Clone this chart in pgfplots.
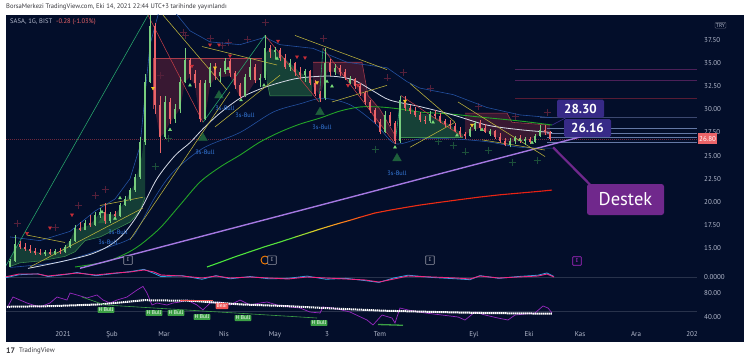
\documentclass[border=0pt]{standalone}
\usepackage{pgfplots}
\pgfplotsset{compat=1.18}
\usepackage{pgfplotstable}
\usepackage{fontspec}
\setmainfont{PT Sans}

\definecolor{navy}{RGB}{3,14,42}
\definecolor{candGc}{RGB}{120,205,125}
\definecolor{candRc}{RGB}{235,100,105}
\definecolor{maWhite}{RGB}{215,220,232}
\definecolor{maGreen}{RGB}{35,165,40}
\definecolor{bandBlue}{RGB}{35,80,160}
\definecolor{zzGreen}{RGB}{40,170,110}
\definecolor{zzRed}{RGB}{190,60,70}
\definecolor{trendY}{RGB}{190,180,60}
\definecolor{supPurple}{RGB}{165,120,225}
\definecolor{fillG}{RGB}{35,100,65}
\definecolor{fillR}{RGB}{110,35,58}
\definecolor{gBorder}{RGB}{60,140,80}
\definecolor{rBorder}{RGB}{170,60,75}
\definecolor{crossR}{RGB}{85,32,58}
\definecolor{crossG}{RGB}{28,80,58}
\definecolor{bigTri}{RGB}{30,95,60}
\definecolor{triG}{RGB}{120,220,120}
\definecolor{triR}{RGB}{200,45,55}
\definecolor{triY}{RGB}{240,200,40}
\definecolor{bullBlue}{RGB}{55,125,225}
\definecolor{lblIndigo}{RGB}{55,42,135}
\definecolor{destek}{RGB}{112,40,140}
\definecolor{priceRed}{RGB}{235,100,105}
\definecolor{priceLine}{RGB}{110,40,60}
\definecolor{scaleTxt}{RGB}{180,186,205}
\definecolor{macdPink}{RGB}{240,40,130}
\definecolor{macdCyan}{RGB}{40,170,230}
\definecolor{rsiPurple}{RGB}{150,40,190}
\definecolor{hbull}{RGB}{60,160,70}
\definecolor{bear}{RGB}{240,85,85}
\definecolor{lvPurple}{RGB}{75,32,88}
\definecolor{lvMaroon}{RGB}{88,28,52}
\definecolor{lvBlue}{RGB}{60,72,112}
\definecolor{lvSteel}{RGB}{100,120,165}
\definecolor{zeroLine}{RGB}{40,50,75}
\definecolor{eGray}{RGB}{150,152,165}
\definecolor{ePurple}{RGB}{170,40,200}
\definecolor{hdr}{RGB}{55,55,60}

\pgfplotstableread{
x o h l c
10 13.0 13.8 12.9 13.6
15 13.6 16.4 13.5 15.4
45 14.4 14.8 14.1 14.6
55 14.4 14.9 14.2 14.7
65 14.6 15.3 14.5 15.1
70 15.1 16.0 15.0 15.8
75 15.8 17.5 15.7 17.2
85 17.0 18.0 16.9 17.7
95 17.5 18.9 17.4 18.6
100 18.6 19.3 18.3 18.9
110 17.9 18.9 17.7 18.7
120 18.5 19.9 18.4 19.7
125 19.7 20.6 19.5 20.3
130 20.3 21.5 20.1 21.3
135 21.3 23.0 21.1 22.7
140 22.7 27.0 22.5 26.5
145 26.5 33.8 26.2 33.0
150 33.0 40.2 32.8 39.0
165 27.0 31.5 26.8 30.8
175 29.0 30.6 28.5 30.0
180 30.0 33.5 29.6 33.0
185 33.0 36.6 32.8 35.3
205 29.0 33.2 28.8 32.8
210 32.8 35.0 32.4 34.6
220 33.6 34.5 33.0 34.0
225 34.0 35.6 33.8 35.2
245 31.5 33.8 31.3 33.5
250 33.5 35.6 33.2 34.6
260 33.2 33.8 32.4 33.4
265 33.4 38.0 33.2 36.6
275 36.2 36.8 35.5 36.4
290 34.6 35.5 34.2 35.0
305 33.7 34.4 33.0 34.1
325 31.2 36.6 31.0 35.0
335 34.0 34.9 33.7 34.5
350 32.9 33.6 32.7 33.3
385 27.6 29.8 27.4 29.4
400 26.6 31.5 26.4 31.0
430 28.7 29.8 28.5 29.5
470 27.1 28.1 27.0 27.9
475 27.9 28.7 27.7 28.5
490 27.3 27.9 27.1 27.7
510 26.2 26.9 25.9 26.6
515 26.6 27.1 26.3 26.9
525 26.6 27.0 26.2 26.8
535 26.5 27.3 26.4 27.1
540 27.1 28.3 27.0 27.8
}\candG

\pgfplotstableread{
x o h l c
20 15.4 15.8 14.9 15.1
25 15.1 15.5 14.7 14.9
30 14.9 15.3 14.5 14.7
35 14.7 15.0 14.3 14.5
40 14.5 14.9 14.2 14.4
50 14.6 14.9 14.3 14.4
60 14.7 15.0 14.4 14.6
80 17.2 17.8 16.8 17.0
90 17.7 18.6 17.3 17.5
105 18.9 19.9 17.6 17.9
115 18.7 19.0 18.3 18.5
155 39.0 39.3 29.5 30.5
160 30.5 31.5 25.3 27.0
170 30.8 31.2 28.4 29.0
190 35.3 35.6 33.2 33.8
195 33.8 34.3 32.3 32.8
200 32.8 33.2 28.6 29.0
215 34.6 35.0 33.2 33.6
230 35.2 35.5 33.5 33.9
235 33.9 34.2 32.2 32.6
240 32.6 32.9 31.1 31.5
255 34.6 34.9 32.8 33.2
270 36.6 37.0 35.6 36.2
280 36.4 36.6 35.2 35.6
285 35.6 36.0 34.4 34.6
295 35.0 35.1 33.6 34.0
300 34.0 34.6 33.3 33.7
310 34.1 34.3 32.6 32.9
315 32.9 33.2 31.4 31.7
320 31.7 32.0 30.8 31.2
330 35.0 35.4 33.6 34.0
340 34.5 34.8 33.6 34.0
345 34.0 34.4 33.2 33.5
355 33.3 33.4 32.2 32.5
360 32.5 32.8 31.5 31.8
365 31.8 32.0 30.5 30.8
370 30.8 31.0 29.6 29.9
375 29.9 30.2 28.4 28.6
380 28.6 29.0 27.3 27.6
390 29.4 29.7 28.2 28.5
395 28.5 28.7 26.3 26.6
405 31.0 31.4 29.8 30.2
410 30.2 30.5 29.5 29.8
415 29.8 30.3 29.2 29.4
420 29.4 29.7 28.6 28.9
425 28.9 29.3 28.4 28.7
435 29.5 29.9 29.0 29.3
440 29.3 29.6 28.5 28.7
445 28.7 29.0 28.1 28.4
450 28.4 28.9 27.9 28.2
455 28.2 28.5 27.5 27.7
460 27.7 28.1 27.0 27.3
465 27.3 27.6 26.8 27.1
480 28.5 28.8 27.8 28.0
485 28.0 28.4 27.4 27.6
495 27.7 27.8 26.8 27.0
500 27.0 27.4 26.4 26.6
505 26.6 26.9 26.0 26.2
520 26.9 27.2 26.4 26.6
530 26.8 27.0 26.3 26.5
545 27.8 28.3 27.2 27.5
550 27.5 27.7 26.6 26.8
}\candR

\pgfplotsset{
  panel/.style={scale only axis, width=691pt, xmin=6, xmax=697,
    axis line style={draw=none}, major tick length=0pt, xtick=\empty,
    yticklabel pos=right,
    yticklabel style={anchor=west, inner sep=0pt, xshift=7pt, text=scaleTxt, font=\fontsize{7}{8}\selectfont},
    clip mode=individual},
  thin line/.style={line width=0.55pt},
  candle/.style={draw=none, no markers, forget plot, error bars/.cd, y dir=plus, y explicit, error mark=none},
}

\begin{document}
\begin{tikzpicture}[x=1pt,y=1pt]
\fill[white] (0,0) rectangle (750,362);
\fill[navy] (6,20) rectangle (744,347);
\node[anchor=west, inner sep=0pt, text=hdr, font=\fontsize{6.6}{8}\selectfont] at (6,355) {BorsaMerkezi TradingView.com, Eki 14, 2021 22:44 UTC+3 tarihinde yayınlandı};
\node[anchor=west, inner sep=0pt, text=hdr, font=\bfseries\fontsize{8}{9}\selectfont] at (6,11) {17};
\node[anchor=west, inner sep=0pt, text=hdr, font=\fontsize{6.8}{8}\selectfont] at (19,11) {TradingView};

% ================= MAIN PRICE PANEL =================
\begin{axis}[panel, name=main, at={(6pt,94pt)}, anchor=south west, height=253pt, ymin=12.84, ymax=40.21,
  ytick={15,17.5,20,22.5,25,27.5,30,32.5,35,37.5},
  yticklabels={15.00,17.50,20.00,22.50,25.00,27.50,30.00,32.50,35.00,37.50}]

% shaded zones
\addplot[fill=fillG, draw=none, fill opacity=0.55] coordinates {(10,13.6)(15,15.3)(25,14.9)(40,14.5)(60,14.6)(70,15.8)(75,17.0)(90,17.5)(100,18.8)(115,18.6)(125,20.0)(135,22.0)(142,25.0)(145,28.0)(145,20.5)(140,19.0)(130,17.8)(115,17.0)(100,16.2)(85,15.8)(75,14.6)(65,14.1)(40,13.6)(20,13.4)(10,13.0)} -- cycle;
\addplot[gBorder, thin line] coordinates {(10,13.0)(20,13.4)(40,13.6)(65,14.1)(75,14.6)(85,15.8)(100,16.2)(115,17.0)(130,17.8)(140,19.0)(145,20.5)};
\addplot[fill=fillR, draw=none, fill opacity=0.5] coordinates {(153,35.5)(262,35.5)(262,33.4)(255,33.0)(245,31.3)(240,31.3)(235,32.4)(230,33.6)(215,33.4)(210,32.6)(205,29.0)(200,28.8)(195,32.5)(190,33.5)(185,33.0)(180,30.0)(170,28.6)(165,27.5)(160,27.0)(155,30.0)} -- cycle;
\addplot[rBorder, thin line] coordinates {(153,30.0)(153,35.5)(262,35.5)};
\addplot[fill=fillG, draw=none, fill opacity=0.6] coordinates {(265,36.0)(270,36.6)(280,36.0)(290,35.0)(300,34.0)(312,33.2)(312,31.45)(270,31.45)(267,33.0)} -- cycle;
\addplot[gBorder, thin line] coordinates {(267,33.0)(270,31.45)(312,31.45)};
\addplot[fill=fillR, draw=none, fill opacity=0.5] coordinates {(313,35.1)(362,35.1)(368,31.5)(380,30.0)(395,27.2)(395,26.6)(385,27.8)(375,28.8)(365,31.0)(355,32.5)(345,33.4)(335,34.0)(328,34.2)(320,31.5)(313,32.5)} -- cycle;
\addplot[rBorder, thin line] coordinates {(313,35.1)(362,35.1)(368,31.5)(380,30.0)(395,27.2)};
\addplot[fill=fillG, draw=none, fill opacity=0.6] coordinates {(400,30.5)(405,30.9)(415,29.7)(430,29.4)(440,28.9)(450,28.3)(463,27.3)(463,27.0)(400,27.0)} -- cycle;
\addplot[gBorder, thin line] coordinates {(400,27.0)(463,27.0)};
\addplot[fill=fillR, draw=none, fill opacity=0.5] coordinates {(465,29.6)(507,29.6)(512,28.6)(550,28.3)(550,27.2)(540,27.3)(530,26.7)(510,26.4)(500,26.8)(490,27.4)(480,28.0)(470,27.6)(465,27.2)} -- cycle;
\addplot[rBorder, thin line] coordinates {(465,29.6)(507,29.6)(512,28.6)(550,28.3)};

% horizontal level lines
\addplot[lvPurple, line width=0.6pt] coordinates {(515,34.35)(697,34.35)};
\addplot[lvPurple, line width=0.6pt] coordinates {(515,33.17)(697,33.17)};
\addplot[lvMaroon, line width=0.6pt] coordinates {(515,31.23)(697,31.23)};
\addplot[lvBlue, line width=0.5pt] coordinates {(540,29.16)(697,29.16)};
\addplot[lvSteel, line width=0.35pt] coordinates {(547,28.0)(697,28.0)};
\addplot[lvSteel, line width=0.35pt] coordinates {(547,27.45)(697,27.45)};
\addplot[lvSteel, line width=0.35pt] coordinates {(547,27.0)(697,27.0)};
\addplot[lvSteel, line width=0.35pt] coordinates {(547,26.4)(697,26.4)};
\addplot[priceLine, line width=0.45pt, dash pattern=on 1pt off 1pt] coordinates {(6,26.8)(697,26.8)};

% big dark triangles and crosses
\addplot[only marks, mark=triangle*, mark size=5pt, color=bigTri] coordinates {(203,26.9)(219,31.5)(320,29.7)(397,24.7)(103,18.0)};
\addplot[only marks, mark=+, mark size=3.5pt, color=crossR, line width=0.7pt] coordinates {(17,17.7)(55,17.2)(78,19.6)(95,20.7)(105,21.3)(185,38.0)(210,37.7)(228,37.2)(265,39.4)(160,33.7)(183,38.3)(222,36.9)(247,37.6)(323,37.7)(387,33.4)(403,34.0)(430,32.3)(478,30.3)(547,29.7)(515,29.2)};
\addplot[only marks, mark=+, mark size=3.5pt, color=crossG, line width=0.7pt] coordinates {(155,23.8)(168,26.9)(375,25.7)(438,26.5)(453,26.1)(465,25.4)(488,25.6)(512,24.3)(537,24.5)};

% moving averages / bands
\addplot[bandBlue, line width=0.6pt] coordinates {(10,16.2)(40,15.8)(70,16.8)(95,19.0)(115,20.3)(130,22.5)(140,26)(150,37)(160,41)(175,40.5)(190,38.5)(210,37.3)(240,37.0)(265,37.8)(280,37.0)(313,36.6)(347,35.1)(387,34.5)(407,33.0)(420,32.3)(453,31.6)(487,30.2)(520,29.4)(552,29.1)};
\addplot[bandBlue, line width=0.6pt, smooth] coordinates {(10,12.9)(60,13.5)(100,14.8)(130,16.0)(140,17.5)(155,20.5)(173,23.2)(203,25.8)(240,27.5)(273,29.7)(300,30.6)(323,31.2)(350,30.5)(375,28.5)(395,26.3)(420,26.8)(453,26.8)(487,26.5)(520,25.9)(552,25.8)};
\addplot[maGreen, line width=0.9pt, smooth] coordinates {(75,12.95)(105,13.49)(125,14.35)(140,15.32)(160,17.16)(180,19.65)(200,22.14)(220,23.76)(240,25.06)(260,26.47)(280,27.55)(300,28.41)(320,29.06)(340,29.82)(360,30.26)(380,30.26)(400,30.04)(420,29.71)(450,29.50)(480,29.17)(520,28.74)(552,28.31)};
\addplot[maWhite, line width=0.8pt, smooth] coordinates {(28,12.8)(60,13.5)(90,14.3)(110,15.3)(125,16.7)(140,19.0)(157,22.5)(175,25.0)(190,26.4)(203,27.9)(220,29.6)(240,31.2)(260,32.2)(280,32.9)(300,33.4)(330,33.6)(353,33.2)(373,32.0)(390,31.0)(420,30.3)(453,29.4)(487,28.3)(520,27.8)(552,27.5)};
\addplot[mesh, point meta=x, point meta min=207, point meta max=552, line width=1.1pt,
  colormap={ma200}{rgb255(0pt)=(70,230,60); rgb255(83pt)=(90,225,60); rgb255(108pt)=(220,210,40); rgb255(133pt)=(255,140,30); rgb255(163pt)=(240,50,20); rgb255(345pt)=(230,30,20)}]
  coordinates {(207,12.95)(220,13.45)(235,14.05)(250,14.6)(265,15.15)(280,15.65)(295,16.18)(310,16.7)(320,17.05)(330,17.38)(340,17.7)(350,18.0)(360,18.33)(375,18.79)(390,19.1)(405,19.38)(420,19.65)(440,19.95)(460,20.24)(480,20.52)(500,20.76)(520,20.95)(540,21.14)(552,21.27)};
\addplot[supPurple, line width=1.4pt] coordinates {(80,12.81)(600,27.58)};

% zigzag
\addplot[zzGreen, thin line] coordinates {(6,13.1)(148,40.2)};
\addplot[zzRed, thin line] coordinates {(148,40.2)(203,28.6)};
\addplot[zzGreen, thin line] coordinates {(203,28.6)(265,38.0)};
\addplot[zzRed, thin line] coordinates {(265,38.0)(319,30.8)};
\addplot[zzGreen, thin line] coordinates {(319,30.8)(323,36.6)};
\addplot[zzRed, thin line] coordinates {(323,36.6)(395,26.3)};
\addplot[zzGreen, thin line] coordinates {(395,26.3)(401,31.5)};
\addplot[zzRed, thin line] coordinates {(401,31.5)(463,27.0)};

% yellow trend lines
\addplot[trendY, thin line] coordinates {(27,16.4)(65,15.6)};
\addplot[trendY, thin line] coordinates {(30,12.95)(143,19.33)};
\addplot[trendY, thin line] coordinates {(100,19.6)(143,20.5)};
\addplot[trendY, thin line] coordinates {(130,15.9)(230,31.9)};
\addplot[trendY, thin line] coordinates {(163,40.2)(227,32.1)};
\addplot[trendY, thin line] coordinates {(202,36.8)(277,34.8)};
\addplot[trendY, thin line] coordinates {(215,28.1)(280,33.7)};
\addplot[trendY, thin line] coordinates {(295,38.0)(387,34.3)};
\addplot[trendY, thin line] coordinates {(332,30.8)(387,32.6)};
\addplot[trendY, thin line] coordinates {(410,32.8)(455,28.6)};
\addplot[trendY, thin line] coordinates {(410,25.9)(455,28.6)};
\addplot[trendY, thin line] coordinates {(458,30.8)(545,24.9)};
\addplot[trendY, thin line] coordinates {(482,26.7)(545,25.6)};

% candles: wicks
\addplot[candle, error bar style={draw=candGc, line width=0.6pt}]
  table[x=x, y=l, y error plus expr=\thisrow{h}-\thisrow{l}] {\candG};
\addplot[candle, error bar style={draw=candRc, line width=0.6pt}]
  table[x=x, y=l, y error plus expr=\thisrow{h}-\thisrow{l}] {\candR};
% candles: bodies
\addplot[candle, error bar style={draw=candGc, line width=2.4pt}]
  table[x=x, y=o, y error plus expr=\thisrow{c}-\thisrow{o}] {\candG};
\addplot[candle, error bar style={draw=candRc, line width=2.4pt}]
  table[x=x, y=c, y error plus expr=\thisrow{o}-\thisrow{c}] {\candR};

% small signal triangles
\addplot[only marks, mark=triangle*, mark size=1.7pt, color=triG] coordinates {(170,27.8)(190,32.6)(228,34.4)(241,31.0)(264,32.6)(277,35.5)(102,18.9)(115,18.2)(120,20.4)(327,33.0)(332,32.5)(395,25.9)(433,28.6)(457,27.2)(482,27.8)(520,26.7)(532,26.4)};
\addplot[only marks, mark=triangle*, mark size=1.8pt, color=triR, mark options={rotate=180}] coordinates {(27,16.6)(50,17.2)(72,18.6)(210,37.0)(192,34.7)(230,35.8)(219,37.0)(278,37.4)(297,35.7)(305,35.6)(348,32.6)(358,32.6)};
\addplot[only marks, mark=triangle*, mark size=1.8pt, color=triY, mark options={rotate=180}] coordinates {(153,32.3)(215,34.5)(317,32.9)(405,30.9)(472,28.3)};

% 3s-Bull labels
\foreach \px/\py in {225/30.13, 245/29.39, 205/25.38, 322/28.09, 397/23.11, 118/16.73, 108/15.65}{
  \edef\tmp{\noexpand\node[text=bullBlue, inner sep=0pt, font=\noexpand\fontsize{6.3}{7}\noexpand\selectfont] at (axis cs:\px,\py) {3s-Bull};}\tmp
}

% E markers
\draw[orange, line width=0.9pt] (axis cs:265,13.7) circle[radius=4pt];
\foreach \px in {128,272,430}{
  \edef\tmp{\noexpand\node[draw=eGray, fill=navy, text=eGray, line width=0.6pt, rounded corners=0.6pt, minimum size=8.5pt, inner sep=0pt, font=\noexpand\fontsize{5.5}{6}\noexpand\selectfont] at (axis cs:\px,13.7) {E};}\tmp
}
\node[draw=ePurple, fill=navy, text=ePurple, line width=0.6pt, rounded corners=0.6pt, minimum size=8.5pt, inner sep=0pt, font=\fontsize{5.5}{6}\selectfont] at (axis cs:577,13.6) {E};

% legend text
\node[anchor=west, inner sep=0pt, font=\fontsize{6.6}{8}\selectfont] at (axis cs:10,39.45) {\textcolor{scaleTxt}{SASA, 1G, BIST}\hspace{4pt}\textcolor{priceRed}{-0.28 (-1.03\%)}};

% annotations
\draw[lblIndigo, line width=0.7pt] (axis cs:566,29.1) -- (axis cs:552,28.3);
\draw[destek, line width=2.2pt] (axis cs:553,25.9) -- (axis cs:597,21.1);
\node[fill=lblIndigo, text=white, rounded corners=1.5pt, minimum width=47pt, minimum height=18pt, inner sep=0pt, font=\bfseries\fontsize{13}{14}\selectfont] at (axis cs:580.5,30.09) {28.30};
\node[fill=lblIndigo, text=white, rounded corners=1.5pt, minimum width=47pt, minimum height=18pt, inner sep=0pt, font=\bfseries\fontsize{13}{14}\selectfont] at (axis cs:587.5,27.98) {26.16};
\node[fill=destek, text=white, rounded corners=2.5pt, minimum width=77pt, minimum height=31pt, inner sep=0pt, font=\fontsize{18.5}{20}\selectfont] at (axis cs:625.5,20.25) {Destek};

% price scale extras
\node[fill=priceRed, text=white, anchor=west, minimum height=11pt, inner sep=1.5pt, font=\fontsize{7}{8}\selectfont] at (axis cs:697.5,26.80) {26.80};
\node[draw=eGray!60!navy, text=scaleTxt, rounded corners=1pt, inner sep=1pt, line width=0.4pt, font=\fontsize{5.5}{6}\selectfont] at (axis cs:720.5,39.1) {TRY};
\end{axis}

% ================= MACD PANEL =================
\begin{axis}[panel, name=macd, at={(main.south west)}, anchor=north west, height=18pt, ymin=-1, ymax=1, ytick={0}, yticklabels={0.0000}]
\addplot[zeroLine, line width=0.6pt] coordinates {(6,0)(697,0)};
\addplot[macdCyan, line width=0.8pt] coordinates {(5,-0.1)(19,0.25)(38,0.35)(48,0.05)(67,0.3)(77,0.5)(96,0.15)(115,0.4)(130,0.6)(144,0.85)(154,0.4)(161,0.05)(182,0.15)(202,-0.25)(216,0.15)(230,-0.2)(250,0.05)(269,-0.2)(288,-0.15)(307,0.1)(326,-0.25)(346,-0.15)(365,-0.4)(379,-0.6)(394,-0.1)(408,0.2)(432,-0.05)(456,-0.2)(470,-0.3)(480,0.15)(499,-0.15)(518,0.05)(538,0.2)(547,0.45)(554,0.05)};
\addplot[macdPink, line width=0.9pt] coordinates {(5,0)(19,0.33)(38,0.33)(48,0.11)(67,0.33)(77,0.44)(96,0.22)(115,0.44)(130,0.56)(144,0.78)(154,0.56)(161,0.22)(182,0.11)(202,-0.11)(216,0.11)(230,-0.11)(250,0)(269,-0.11)(288,-0.22)(307,0)(326,-0.11)(346,-0.22)(365,-0.33)(379,-0.56)(394,-0.22)(408,0.11)(432,0)(456,-0.11)(470,-0.22)(480,0.11)(499,-0.11)(518,0)(538,0.11)(547,0.33)(554,0)};
\end{axis}

% ================= RSI PANEL =================
\begin{axis}[panel, name=rsi, at={(macd.south west)}, anchor=north west, height=40pt, ymin=25, ymax=91.67, ytick={40,80}, yticklabels={40.00,80.00},
  xtick={63,112,164,224,275,327,380,474,529,580,636,692},
  xticklabels={2021,Şub,Mar,Nis,May,3,Tem,Eyl,Eki,Kas,Ara,202},
  xticklabel style={anchor=base, yshift=-10.5pt, inner sep=0pt, text=scaleTxt, font=\fontsize{7}{8}\selectfont}]
\addplot[zeroLine, line width=0.7pt] coordinates {(6,50)(697,50)};
\addplot[rsiPurple, line width=0.7pt] coordinates {(7,55.0)(13,73.3)(20,68.3)(27,63.3)(33,60.0)(40,56.7)(50,63.3)(57,73.3)(67,68.3)(70,80.0)(77,76.7)(87,71.7)(97,76.7)(103,68.3)(110,63.3)(117,68.3)(127,73.3)(137,85.0)(143,91.0)(147,80.0)(152,60.0)(157,63.3)(167,60.0)(173,63.3)(180,65.0)(187,68.3)(197,60.0)(203,51.7)(210,63.3)(220,65.0)(230,60.0)(240,68.3)(250,60.0)(260,63.3)(267,65.0)(277,60.0)(290,56.7)(300,55.0)(310,48.3)(320,46.7)(323,56.7)(333,55.0)(350,48.3)(367,35.0)(373,26.7)(382,43.3)(392,38.3)(395,30.0)(400,55.0)(408,51.7)(425,46.7)(442,43.3)(458,40.0)(465,35.0)(475,48.3)(485,43.3)(498,38.3)(508,35.0)(515,43.3)(535,46.7)(543,58.3)(548,55.0)(552,46.7)};
\addplot[white, line width=2pt, dash pattern=on 1.4pt off 0.6pt] coordinates {(7,57)(50,58)(100,61)(144,68)(192,67)(240,61)(288,58)(336,54)(384,50.5)(432,48.5)(480,46.7)(552,45.5)};
\addplot[hbull, line width=0.6pt] coordinates {(82,73.3)(105,60)(317,38.3)};
\addplot[bear, line width=0.6pt] coordinates {(180,68.3)(213,68.3)};
\addplot[hbull, line width=1.3pt] coordinates {(378,27.5)(403,26.2)};
\foreach \px/\py in {106/51.7, 154/46.7, 176/46.7, 202/40, 243/38.3, 319/30}{
  \edef\tmp{\noexpand\node[fill=hbull, text=white, rounded corners=0.6pt, inner sep=1pt, font=\noexpand\fontsize{5.5}{6}\noexpand\selectfont] at (axis cs:\px,\py) {H Bull};}\tmp
}
\node[fill=bear, text=white, rounded corners=0.6pt, inner sep=1pt, font=\fontsize{5.5}{6}\selectfont] at (axis cs:222,58.3) {Bear};
\end{axis}
\pgfresetboundingbox
\useasboundingbox (0,0) rectangle (750,362);
\end{tikzpicture}
\end{document}
